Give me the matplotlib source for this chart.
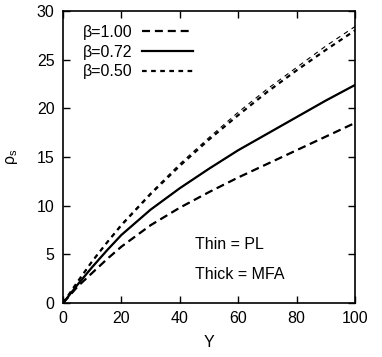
import matplotlib
matplotlib.use("Agg")
import matplotlib.pyplot as plt

plt.rcParams['font.family'] = ['Liberation Sans', 'DejaVu Sans']
plt.rcParams['mathtext.fontset'] = 'custom'
plt.rcParams['mathtext.rm'] = 'Liberation Sans'
plt.rcParams['mathtext.it'] = 'Liberation Sans:italic'

Y = [0, 5, 10, 15, 20, 30, 40, 50, 60, 70, 80, 90, 100]
# thick (MFA)
rho_100_mfa = [0, 1.7, 3.1, 4.5, 5.8, 8.0, 9.8, 11.4, 12.9, 14.3, 15.7, 17.1, 18.5]
rho_072_mfa = [0, 1.9, 3.7, 5.4, 7.0, 9.6, 11.8, 13.8, 15.7, 17.4, 19.1, 20.8, 22.4]
rho_050_mfa = [0, 2.2, 4.3, 6.2, 8.0, 11.2, 14.1, 16.8, 19.3, 21.7, 23.9, 26.0, 28.0]
# thin (PL)
rho_100_pl = [0, 1.7, 3.1, 4.5, 5.8, 8.0, 9.8, 11.4, 12.9, 14.3, 15.7, 17.1, 18.5]
rho_072_pl = [0, 1.9, 3.7, 5.4, 7.0, 9.6, 11.8, 13.8, 15.7, 17.4, 19.1, 20.8, 22.4]
rho_050_pl = [0, 2.2, 4.3, 6.2, 8.1, 11.3, 14.3, 17.0, 19.6, 22.0, 24.2, 26.4, 28.4]

labels = ["β=1.00", "β=0.72", "β=0.50"]
xticks = [0, 20, 40, 60, 80, 100]
yticks = [0, 5, 10, 15, 20, 25, 30]

fig = plt.figure(figsize=(3.82, 3.57), dpi=100)
ax = fig.add_axes([0.165, 0.151, 0.764, 0.818])

lw_thick, lw_thin = 1.6, 0.8
long_thick = (0, (3.6, 2.2))
short_thick = (0, (2.1, 2.0))
long_thin = (0, (7.2, 4.4))
short_thin = (0, (4.2, 4.0))

l1, = ax.plot(Y, rho_100_mfa, color='black', lw=lw_thick, linestyle=long_thick, label=labels[0])
l2, = ax.plot(Y, rho_072_mfa, color='black', lw=lw_thick, linestyle='-', label=labels[1])
l3, = ax.plot(Y, rho_050_mfa, color='black', lw=lw_thick, linestyle=short_thick, label=labels[2])
ax.plot(Y, rho_100_pl, color='black', lw=lw_thin, linestyle=long_thin)
ax.plot(Y, rho_072_pl, color='black', lw=lw_thin, linestyle='-')
ax.plot(Y, rho_050_pl, color='black', lw=lw_thin, linestyle=short_thin)

ax.set_xlim(0, 100)
ax.set_ylim(0, 30)
ax.set_xticks(xticks)
ax.set_yticks(yticks)
ax.tick_params(direction='in', top=True, right=True, labelsize=11.5, length=5, width=1, pad=6)
for s in ax.spines.values():
    s.set_linewidth(1.2)

ax.set_xlabel("Y", fontsize=11.5, labelpad=6)
ax.set_ylabel(r"$\mathrm{ρ_s}$", fontsize=11.5, labelpad=12)

leg = ax.legend(handles=[l1, l2, l3], loc='upper left', frameon=False, fontsize=11.5,
                markerfirst=False, handlelength=3.2, handletextpad=0.6,
                labelspacing=0.3, borderaxespad=0.0, borderpad=0.2,
                bbox_to_anchor=(0.056, 0.964))

ax.text(0.452, 0.199, "Thin = PL", transform=ax.transAxes, fontsize=11.5, va='center')
ax.text(0.452, 0.099, "Thick = MFA", transform=ax.transAxes, fontsize=11.5, va='center')

fig.savefig("out.png", dpi=100)
